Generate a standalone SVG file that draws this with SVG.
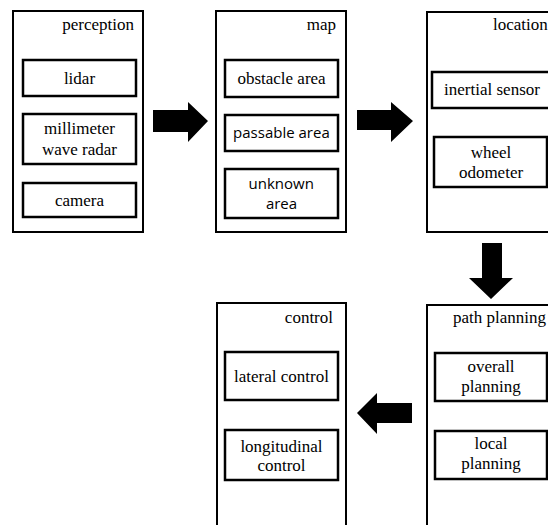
<svg xmlns="http://www.w3.org/2000/svg" width="548" height="525" viewBox="0 0 548 525">
<defs>
<style>
.outer{fill:#fff;stroke:#000;stroke-width:2}
.inner{fill:#fff;stroke:#000;stroke-width:2.5}
.arrow{fill:#000}
</style>
</defs>
<rect width="548" height="525" fill="#fff"/>
<g id="perception">
<rect class="outer" x="13" y="11" width="130" height="221"/>
<text font-family="Liberation Serif" font-size="17" text-anchor="end" x="134" y="30">perception</text>
<rect class="inner" x="23" y="60" width="113" height="36"/>
<text font-family="Liberation Serif" font-size="17" x="63.9" y="84">lidar</text>
<rect class="inner" x="23" y="114" width="113" height="50"/>
<text font-family="Liberation Serif" font-size="17" x="44.1" y="134">millimeter</text>
<text font-family="Liberation Serif" font-size="17" x="42" y="155">wave radar</text>
<rect class="inner" x="23" y="183" width="113" height="34"/>
<text font-family="Liberation Serif" font-size="17" x="55" y="206">camera</text>
</g>
<g id="map">
<rect class="outer" x="216" y="11" width="130" height="221"/>
<text font-family="Liberation Serif" font-size="17" text-anchor="end" x="336" y="30">map</text>
<rect class="inner" x="225" y="60" width="113" height="37"/>
<text font-family="Liberation Serif" font-size="17" x="237.4" y="84">obstacle area</text>
<rect class="inner" x="225" y="115" width="113" height="36"/>
<text font-family="Open Sans" font-size="15" x="233.1" y="138">passable area</text>
<rect class="inner" x="225" y="169" width="113" height="49"/>
<text font-family="Open Sans" font-size="15" x="248.6" y="189">unknown</text>
<text font-family="Open Sans" font-size="15" x="265.9" y="209">area</text>
</g>
<g id="location">
<rect class="outer" x="427" y="12" width="130" height="220"/>
<text font-family="Liberation Serif" font-size="17" x="493" y="30">location</text>
<rect class="inner" x="432" y="72" width="125" height="36"/>
<text font-family="Liberation Serif" font-size="17" x="444.1" y="95">inertial sensor</text>
<rect class="inner" x="434" y="137" width="113" height="50"/>
<text font-family="Liberation Serif" font-size="17" x="470.7" y="158">wheel</text>
<text font-family="Liberation Serif" font-size="17" x="458.9" y="178">odometer</text>
</g>
<g id="path-planning">
<rect class="outer" x="427" y="305" width="130" height="230"/>
<text font-family="Liberation Serif" font-size="17" x="453" y="323">path planning</text>
<rect class="inner" x="435" y="353" width="112" height="48"/>
<text font-family="Liberation Serif" font-size="17" x="467.4" y="372">overall</text>
<text font-family="Liberation Serif" font-size="17" x="461.3" y="392">planning</text>
<rect class="inner" x="435" y="431" width="112" height="48"/>
<text font-family="Liberation Serif" font-size="17" x="474.5" y="449">local</text>
<text font-family="Liberation Serif" font-size="17" x="461.3" y="469">planning</text>
</g>
<g id="control">
<rect class="outer" x="217" y="303" width="129" height="232"/>
<text font-family="Liberation Serif" font-size="17" text-anchor="end" x="333" y="323">control</text>
<rect class="inner" x="225" y="352" width="113" height="48"/>
<text font-family="Liberation Serif" font-size="17" x="234" y="382">lateral control</text>
<rect class="inner" x="225" y="430" width="113" height="50"/>
<text font-family="Liberation Serif" font-size="17" x="240.4" y="452">longitudinal</text>
<text font-family="Liberation Serif" font-size="17" x="257.4" y="471">control</text>
</g>
<g id="connectors">
<polygon class="arrow" points="153,110 188,110 188,102 208,121 188,142 188,132 153,132"/>
<polygon class="arrow" points="357,110 391,110 391,102 413,121 391,142 391,130 357,130"/>
<polygon class="arrow" points="482,243 502,243 502,278 513,278 491,299 469,278 482,278"/>
<polygon class="arrow" points="412,403 377,403 377,393 357,413 377,434 377,423 412,423"/>
</g>
</svg>
